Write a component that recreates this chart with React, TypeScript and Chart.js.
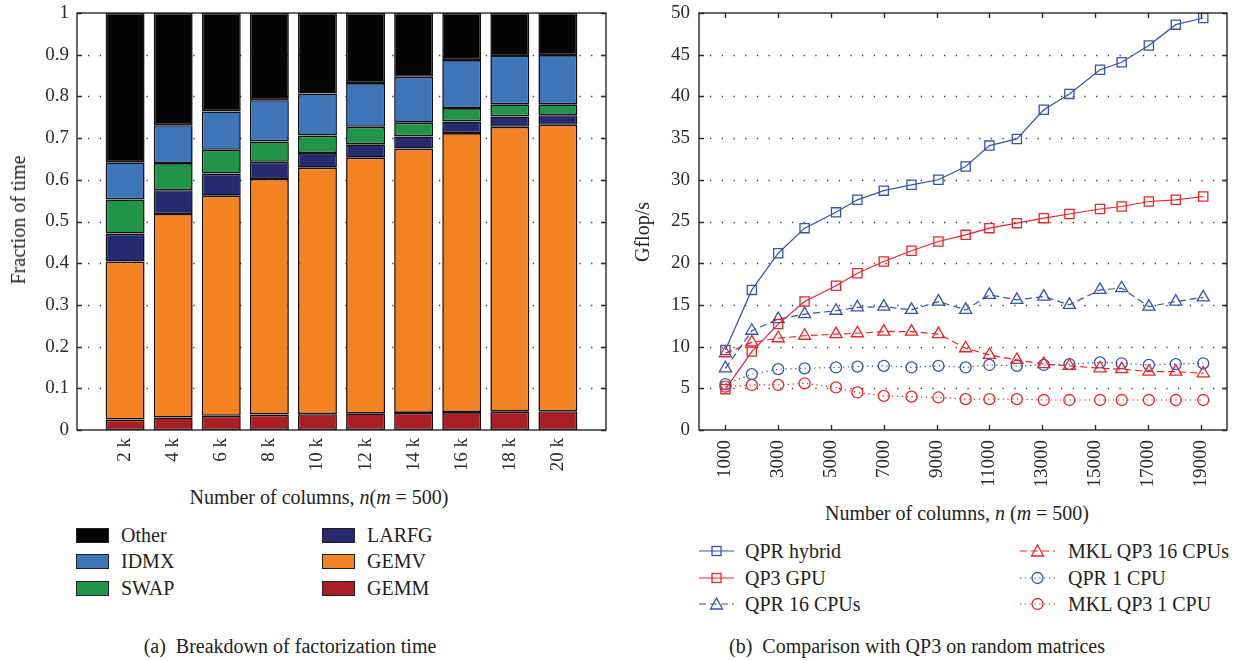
import React, { useEffect, useRef } from 'react';
import { Chart, registerables } from 'chart.js';

Chart.register(...registerables);

const FONT = "'Liberation Serif', 'Times New Roman', serif";
const INK = '#2a2a2a';

// ---- (a) Breakdown of factorization time (fractions of total time) ----
const columnCountsK = [2, 4, 6, 8, 10, 12, 14, 16, 18, 20];
const columnLabels = ['2 k', '4 k', '6 k', '8 k', '10 k', '12 k', '14 k', '16 k', '18 k', '20 k'];
const gemmShare = [0.025, 0.03, 0.034, 0.037, 0.038, 0.04, 0.041, 0.043, 0.044, 0.045];
const gemvShare = [0.379, 0.488, 0.528, 0.565, 0.591, 0.613, 0.634, 0.669, 0.683, 0.687];
const larfgShare = [0.067, 0.057, 0.053, 0.041, 0.035, 0.032, 0.029, 0.028, 0.025, 0.023];
const swapShare = [0.082, 0.065, 0.057, 0.049, 0.042, 0.042, 0.033, 0.032, 0.029, 0.026];
const idmxShare = [0.089, 0.091, 0.092, 0.099, 0.101, 0.105, 0.11, 0.115, 0.116, 0.118];
const otherShare = [0.358, 0.269, 0.236, 0.209, 0.193, 0.168, 0.153, 0.113, 0.103, 0.101];
const fractionTicks = [0, 0.1, 0.2, 0.3, 0.4, 0.5, 0.6, 0.7, 0.8, 0.9, 1];

// ---- (b) Comparison with QP3 on random matrices (Gflop/s) ----
const columnCounts = [1000, 2000, 3000, 4000, 5190, 6000, 7000, 8050, 9070, 10100, 11000, 12040, 13060, 14030, 15190, 16010, 17040, 18060, 19100];
const qprHybrid = [9.6, 16.8, 21.2, 24.2, 26.1, 27.6, 28.7, 29.4, 30.0, 31.6, 34.1, 34.9, 38.4, 40.3, 43.2, 44.1, 46.1, 48.6, 49.4];
const qp3Gpu = [4.9, 9.4, 12.7, 15.4, 17.3, 18.8, 20.2, 21.5, 22.6, 23.4, 24.2, 24.8, 25.4, 25.9, 26.5, 26.8, 27.4, 27.6, 28.0];
const qpr16Cpus = [7.4, 11.9, 13.3, 13.9, 14.3, 14.7, 14.8, 14.4, 15.4, 14.4, 16.2, 15.6, 16.0, 15.0, 16.8, 17.0, 14.8, 15.4, 15.9];
const mklQp316Cpus = [9.2, 10.5, 11.0, 11.3, 11.5, 11.6, 11.8, 11.8, 11.5, 9.8, 9.0, 8.4, 7.9, 7.7, 7.4, 7.3, 7.0, 7.0, 6.8];
const qpr1Cpu = [5.5, 6.7, 7.3, 7.4, 7.5, 7.6, 7.7, 7.5, 7.7, 7.5, 7.8, 7.7, 7.8, 7.9, 8.1, 8.0, 7.8, 7.9, 8.0];
const mklQp31Cpu = [5.2, 5.4, 5.4, 5.6, 5.1, 4.5, 4.1, 4.0, 3.9, 3.7, 3.7, 3.7, 3.6, 3.6, 3.6, 3.6, 3.6, 3.6, 3.6];
const columnTicks = [1000, 3000, 5000, 7000, 9000, 11000, 13000, 15000, 17000, 19000];
const gflopTicks = [0, 5, 10, 15, 20, 25, 30, 35, 40, 45, 50];

const BLUE = '#3653a7';
const RED = '#ec2328';

const barColors = {
  other: '#050505',
  idmx: '#3e75b9',
  swap: '#21944a',
  larfg: '#262a6e',
  gemv: '#f48122',
  gemm: '#ab1f24',
};

// Dotted horizontal grid, inward tick marks and a closed box around the plot area.
const framePlugin = {
  id: 'frame',
  beforeDatasetsDraw(chart: any) {
    const { ctx, chartArea: a } = chart;
    const y = chart.scales.y;
    ctx.save();
    ctx.strokeStyle = '#3c3c3c';
    ctx.lineWidth = 1.3;
    ctx.setLineDash([1.3, 10.4]);
    ctx.lineDashOffset = -11;
    for (const t of y.ticks) {
      const py = Math.round(y.getPixelForValue(t.value)) + 0.5;
      if (py <= a.top + 2 || py >= a.bottom - 2) continue;
      ctx.beginPath();
      ctx.moveTo(a.left, py);
      ctx.lineTo(a.right, py);
      ctx.stroke();
    }
    ctx.restore();
  },
  afterDatasetsDraw(chart: any, _args: any, opts: any) {
    const { ctx, chartArea: a } = chart;
    const y = chart.scales.y;
    const x = chart.scales.x;
    const len = 5;
    ctx.save();
    ctx.strokeStyle = INK;
    ctx.lineWidth = 1.4;
    ctx.setLineDash([]);
    ctx.beginPath();
    for (const t of y.ticks) {
      const py = Math.round(y.getPixelForValue(t.value)) + 0.5;
      ctx.moveTo(a.left, py);
      ctx.lineTo(a.left + len, py);
      ctx.moveTo(a.right, py);
      ctx.lineTo(a.right - len, py);
    }
    if (opts && opts.xTicks) {
      for (const t of x.ticks) {
        const px = Math.round(x.getPixelForValue(t.value)) + 0.5;
        ctx.moveTo(px, a.bottom);
        ctx.lineTo(px, a.bottom - len);
        ctx.moveTo(px, a.top);
        ctx.lineTo(px, a.top + len);
      }
    }
    ctx.stroke();
    ctx.strokeRect(a.left, a.top, a.right - a.left, a.bottom - a.top);
    ctx.restore();
  },
};

const tickFont = { family: FONT, size: 19 };

// Fixed axis boxes so both plot areas sit at the same place on the page.
const fixXAxis = (height: number) => (s: any) => {
  s.height = height;
  s.paddingLeft = 0;
  s.paddingRight = 0;
};
const fixYAxis = (width: number) => (s: any) => {
  s.width = width;
  s.paddingTop = 0;
  s.paddingBottom = 0;
};

function BreakdownChart() {
  const ref = useRef<HTMLCanvasElement | null>(null);
  useEffect(() => {
    if (!ref.current) return;
    const stack = (share: number[]) => columnCountsK.map((x, i) => ({ x, y: share[i] }));
    const bar = (label: string, share: number[], color: string) => ({
      label,
      data: stack(share),
      backgroundColor: color,
      borderColor: '#111',
      borderWidth: 1.6,
      borderSkipped: false,
      barPercentage: 0.81,
      categoryPercentage: 1,
    });
    const chart = new Chart(ref.current, {
      type: 'bar',
      data: {
        datasets: [
          bar('GEMM', gemmShare, barColors.gemm),
          bar('GEMV', gemvShare, barColors.gemv),
          bar('LARFG', larfgShare, barColors.larfg),
          bar('SWAP', swapShare, barColors.swap),
          bar('IDMX', idmxShare, barColors.idmx),
          bar('Other', otherShare, barColors.other),
        ] as any,
      },
      options: {
        animation: false,
        responsive: false,
        layout: { padding: { top: 13, right: 14, left: 0, bottom: 0 } },
        plugins: {
          legend: { display: false },
          tooltip: { enabled: false },
          frame: { xTicks: false },
        } as any,
        scales: {
          x: {
            type: 'linear',
            stacked: true,
            min: 0,
            max: 22,
            offset: false,
            grid: { display: false, drawTicks: false },
            border: { display: false },
            afterBuildTicks: (s: any) => {
              s.ticks = columnCountsK.map((v) => ({ value: v }));
            },
            afterFit: fixXAxis(50),
            ticks: {
              autoSkip: false,
              minRotation: 90,
              maxRotation: 90,
              padding: 8,
              color: INK,
              font: tickFont,
              callback: (v: any) => {
                const i = columnCountsK.indexOf(Number(v));
                return i >= 0 ? columnLabels[i] : '';
              },
            },
          },
          y: {
            type: 'linear',
            stacked: true,
            min: 0,
            max: 1,
            grid: { display: false, drawTicks: false },
            border: { display: false },
            afterBuildTicks: (s: any) => {
              s.ticks = fractionTicks.map((v) => ({ value: v }));
            },
            afterFit: fixYAxis(77),
            ticks: {
              padding: 8,
              color: INK,
              font: tickFont,
              callback: (v: any) => String(v),
            },
          },
        } as any,
      },
      plugins: [framePlugin],
    });
    return () => chart.destroy();
  }, []);
  return (
    <canvas
      ref={ref}
      width={620}
      height={480}
      style={{ position: 'absolute', left: 0, top: 0, width: 620, height: 480 }}
    />
  );
}

function PerformanceChart() {
  const ref = useRef<HTMLCanvasElement | null>(null);
  useEffect(() => {
    if (!ref.current) return;
    const pts = (vals: number[]) => columnCounts.map((x, i) => ({ x, y: vals[i] }));
    const line = (label: string, vals: number[], color: string, style: string, radius: number, dash: number[]) => ({
      label,
      data: pts(vals),
      borderColor: color,
      borderWidth: 1.2,
      borderDash: dash,
      pointStyle: style,
      pointRadius: radius,
      pointBorderWidth: 1.3,
      pointBorderColor: color,
      pointBackgroundColor: 'rgba(0,0,0,0)',
      fill: false,
      tension: 0,
    });
    const chart = new Chart(ref.current, {
      type: 'line',
      data: {
        datasets: [
          line('QPR hybrid', qprHybrid, BLUE, 'rect', 6.5, []),
          line('QP3 GPU', qp3Gpu, RED, 'rect', 6.5, []),
          line('QPR 16 CPUs', qpr16Cpus, BLUE, 'triangle', 7, [7, 4]),
          line('MKL QP3 16 CPUs', mklQp316Cpus, RED, 'triangle', 7, [7, 4]),
          line('QPR 1 CPU', qpr1Cpu, BLUE, 'circle', 5.5, [1.3, 3.5]),
          line('MKL QP3 1 CPU', mklQp31Cpu, RED, 'circle', 5.5, [1.3, 3.5]),
        ] as any,
      },
      options: {
        animation: false,
        responsive: false,
        layout: { padding: { top: 13, right: 17, left: 0, bottom: 0 } },
        plugins: {
          legend: { display: false },
          tooltip: { enabled: false },
          frame: { xTicks: true },
        } as any,
        scales: {
          x: {
            type: 'linear',
            min: 0,
            max: 20000,
            grid: { display: false, drawTicks: false },
            border: { display: false },
            afterBuildTicks: (s: any) => {
              s.ticks = columnTicks.map((v) => ({ value: v }));
            },
            afterFit: fixXAxis(60),
            ticks: {
              autoSkip: false,
              minRotation: 90,
              maxRotation: 90,
              padding: 10,
              color: INK,
              font: tickFont,
              callback: (v: any) => String(v),
            },
          },
          y: {
            type: 'linear',
            min: 0,
            max: 50,
            grid: { display: false, drawTicks: false },
            border: { display: false },
            afterBuildTicks: (s: any) => {
              s.ticks = gflopTicks.map((v) => ({ value: v }));
            },
            afterFit: fixYAxis(79),
            ticks: {
              padding: 9,
              color: INK,
              font: tickFont,
              callback: (v: any) => String(v),
            },
          },
        } as any,
      },
      plugins: [framePlugin],
    });
    return () => chart.destroy();
  }, []);
  return (
    <canvas
      ref={ref}
      width={624}
      height={490}
      style={{ position: 'absolute', left: 620, top: 0, width: 624, height: 490 }}
    />
  );
}

const textBase: React.CSSProperties = {
  position: 'absolute',
  fontFamily: FONT,
  fontSize: 20,
  lineHeight: '22px',
  color: '#222',
  whiteSpace: 'nowrap',
};

function Centered({ x, y, children, rotate }: { x: number; y: number; children: React.ReactNode; rotate?: boolean }) {
  return (
    <div
      style={{
        ...textBase,
        left: x,
        top: y,
        transform: `translate(-50%, -50%)${rotate ? ' rotate(-90deg)' : ''}`,
      }}
    >
      {children}
    </div>
  );
}

function Label({ x, y, children }: { x: number; y: number; children: React.ReactNode }) {
  return <div style={{ ...textBase, left: x, top: y - 11 }}>{children}</div>;
}

const barLegend = [
  { name: 'Other', color: barColors.other, col: 0, row: 0 },
  { name: 'IDMX', color: barColors.idmx, col: 0, row: 1 },
  { name: 'SWAP', color: barColors.swap, col: 0, row: 2 },
  { name: 'LARFG', color: barColors.larfg, col: 1, row: 0 },
  { name: 'GEMV', color: barColors.gemv, col: 1, row: 1 },
  { name: 'GEMM', color: barColors.gemm, col: 1, row: 2 },
];

const lineLegend = [
  { name: 'QPR hybrid', color: BLUE, marker: 'square', dash: '', col: 0, row: 0 },
  { name: 'QP3 GPU', color: RED, marker: 'square', dash: '', col: 0, row: 1 },
  { name: 'QPR 16 CPUs', color: BLUE, marker: 'triangle', dash: '7 4', col: 0, row: 2 },
  { name: 'MKL QP3 16 CPUs', color: RED, marker: 'triangle', dash: '7 4', col: 1, row: 0 },
  { name: 'QPR 1 CPU', color: BLUE, marker: 'circle', dash: '1.3 3.5', col: 1, row: 1 },
  { name: 'MKL QP3 1 CPU', color: RED, marker: 'circle', dash: '1.3 3.5', col: 1, row: 2 },
];

function LineSample({ color, marker, dash }: { color: string; marker: string; dash: string }) {
  return (
    <svg width={35} height={16} style={{ display: 'block' }}>
      <line x1={0} y1={8} x2={35} y2={8} stroke={color} strokeWidth={1.2} strokeDasharray={dash || undefined} />
      {marker === 'square' && <rect x={13} y={3.5} width={9} height={9} fill="none" stroke={color} strokeWidth={1.3} />}
      {marker === 'triangle' && (
        <polygon points="17.5,2 23.5,13 11.5,13" fill="none" stroke={color} strokeWidth={1.3} />
      )}
      {marker === 'circle' && <circle cx={17.5} cy={8} r={5.5} fill="none" stroke={color} strokeWidth={1.3} />}
    </svg>
  );
}

export default function App() {
  const barRows = [535, 561, 588];
  const lineRows = [551, 578, 604];
  return (
    <div
      style={{
        position: 'absolute',
        left: 0,
        top: 0,
        width: 1244,
        height: 661,
        background: '#fff',
        overflow: 'hidden',
      }}
    >
      <BreakdownChart />
      <PerformanceChart />

      <Centered x={18} y={220} rotate>
        Fraction of time
      </Centered>
      <Centered x={319} y={497}>
        Number of columns, <i>n</i>(<i>m</i> = 500)
      </Centered>

      <Centered x={642} y={232} rotate>
        Gflop/s
      </Centered>
      <Centered x={957} y={513}>
        Number of columns, <i>n</i> (<i>m</i> = 500)
      </Centered>

      {barLegend.map((d) => {
        const y = barRows[d.row];
        const sx = d.col === 0 ? 76 : 322;
        const tx = d.col === 0 ? 121 : 367;
        return (
          <React.Fragment key={d.name}>
            <div
              style={{
                position: 'absolute',
                left: sx,
                top: y - 7,
                width: 31,
                height: 13,
                background: d.color,
                border: '1px solid #222',
              }}
            />
            <Label x={tx} y={y}>
              {d.name}
            </Label>
          </React.Fragment>
        );
      })}

      {lineLegend.map((d) => {
        const y = lineRows[d.row];
        const sx = d.col === 0 ? 699 : 1020;
        const tx = d.col === 0 ? 745 : 1068;
        return (
          <React.Fragment key={d.name}>
            <div style={{ position: 'absolute', left: sx, top: y - 8 }}>
              <LineSample color={d.color} marker={d.marker} dash={d.dash} />
            </div>
            <Label x={tx} y={y}>
              {d.name}
            </Label>
          </React.Fragment>
        );
      })}

      <Centered x={290} y={646}>
        (a)&nbsp;&nbsp;Breakdown of factorization time
      </Centered>
      <Centered x={917} y={646}>
        (b)&nbsp;&nbsp;Comparison with QP3 on random matrices
      </Centered>
    </div>
  );
}
